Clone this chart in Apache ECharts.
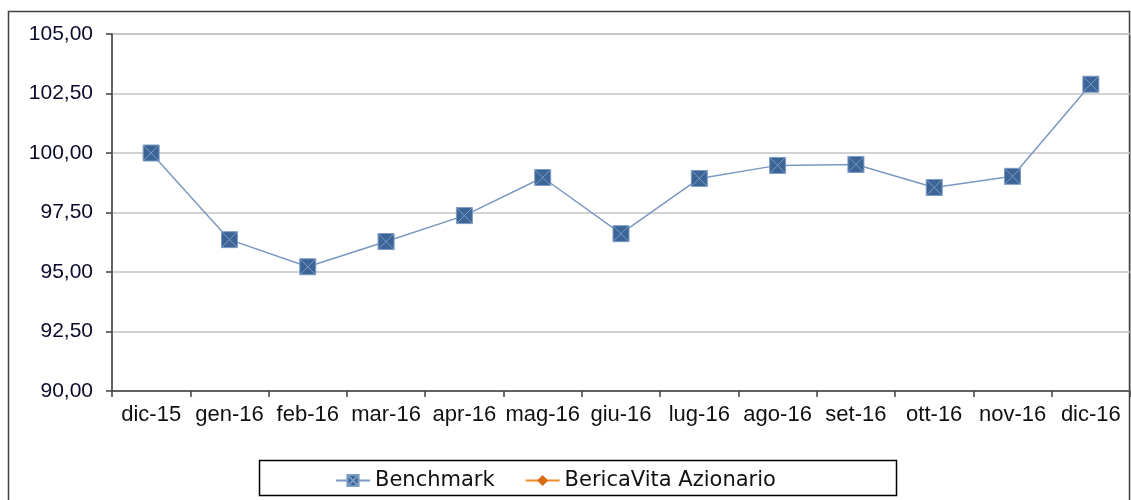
<!DOCTYPE html>
<html>
<head>
<meta charset="UTF-8">
<title>Benchmark</title>
<script src="https://cdn.jsdelivr.net/npm/echarts@6/dist/echarts.min.js"></script>
<style>
  html, body { margin: 0; padding: 0; background: #fff; }
  #main { width: 1131px; height: 500px; }
</style>
</head>
<body>
<div id="main"></div>
<script type="text/javascript">
    // dati
    var mesi = ['dic-15', 'gen-16', 'feb-16', 'mar-16', 'apr-16', 'mag-16', 'giu-16',
                'lug-16', 'ago-16', 'set-16', 'ott-16', 'nov-16', 'dic-16'];
    var benchmark = [100.00, 96.36, 95.22, 96.28, 97.37, 98.97, 96.61,
                     98.93, 99.48, 99.52, 98.55, 99.02, 102.89];
    var bericaVita = [];

    var fontFam = 'Liberation Sans, Arial, sans-serif';
    var quadratoX = 'path://M0,0L10,0L10,10L0,10Z M0,0L10,10 M10,0L0,10';

    var myChart = echarts.init(document.getElementById('main'));

    var option = {
        animation: false,
        graphic: [
            {
                type: 'rect',
                shape: { x: 8.5, y: 11.5, width: 1121, height: 520 },
                style: { fill: 'none', stroke: '#404040', lineWidth: 1.5 }
            },
            {
                type: 'rect',
                shape: { x: 259.5, y: 460.5, width: 637, height: 35 },
                style: { fill: '#fff', stroke: '#000', lineWidth: 1.5 },
                z: 1
            }
        ],
        grid: {
            left: 112,
            right: 1,
            top: 34,
            bottom: 109,
            show: true,
            borderColor: '#909090',
            borderWidth: 1
        },
        legend: {
            left: 330,
            top: 465,
            itemGap: 30,
            itemWidth: 34,
            itemHeight: 14,
            z: 5,
            textStyle: { fontFamily: 'DejaVu Sans, sans-serif', fontSize: 21, color: '#111' },
            data: ['Benchmark', 'BericaVita Azionario']
        },
        xAxis: {
            type: 'category',
            data: mesi,
            boundaryGap: true,
            axisLine: { lineStyle: { color: '#404040', width: 1.5 } },
            axisTick: { show: true, length: 6, lineStyle: { color: '#404040', width: 1.5 } },
            axisLabel: { fontFamily: fontFam, fontSize: 22, color: '#111', margin: 13, interval: 0 },
            splitLine: { show: false }
        },
        yAxis: {
            type: 'value',
            min: 90,
            max: 105,
            interval: 2.5,
            axisLine: { show: true, lineStyle: { color: '#404040', width: 1.5 } },
            axisTick: { show: true, length: 6, lineStyle: { color: '#404040', width: 1.5 } },
            axisLabel: {
                fontFamily: fontFam, fontSize: 21, color: '#0a0a2a', margin: 19,
                formatter: function (v) { return v.toFixed(2).replace('.', ','); }
            },
            splitLine: { show: true, lineStyle: { color: '#c4c4c4', width: 1.5 } }
        },
        series: [
            {
                name: 'Benchmark',
                type: 'line',
                data: benchmark,
                symbol: quadratoX,
                symbolSize: 16,
                showAllSymbol: true,
                lineStyle: { color: '#7b98c0', width: 1.5 },
                itemStyle: { color: '#3b6497', borderColor: '#7f9cc4', borderWidth: 1 },
                z: 3
            },
            {
                name: 'BericaVita Azionario',
                type: 'line',
                data: bericaVita,
                symbol: 'diamond',
                symbolSize: 11,
                lineStyle: { color: '#f0892a', width: 1.5 },
                itemStyle: { color: '#d86c14' }
            }
        ]
    };

    myChart.setOption(option);
</script>
</body>
</html>
